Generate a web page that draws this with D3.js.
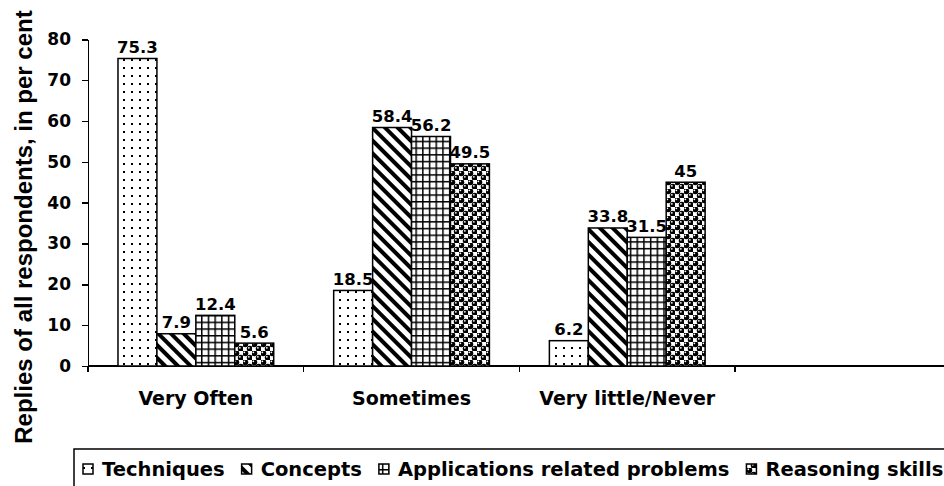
<!DOCTYPE html>
<html lang="en">
<head>
<meta charset="UTF-8">
<title>Replies of all respondents</title>
<style>
    body { margin:0; background:#fff; }
    svg text { font-family: "DejaVu Sans", sans-serif; font-weight: bold; fill:#000; }
    .axis path, .axis line { fill:none; stroke:#000; stroke-width:1.5px; shape-rendering:crispEdges; }
    .axis text { font-size:17px; }
</style>
</head>
<body>
<script src="https://cdn.jsdelivr.net/npm/d3@7"></script>
<script>
    var categories = ["Very Often", "Sometimes", "Very little/Never"];
    var seriesNames = ["Techniques", "Concepts", "Applications related problems", "Reasoning skills"];
    var techniques = [75.3, 18.5, 6.2];
    var concepts = [7.9, 58.4, 33.8];
    var applications = [12.4, 56.2, 31.5];
    var reasoning = [5.6, 49.5, 45];
    var yTicks = [0, 10, 20, 30, 40, 50, 60, 70, 80];

    var seriesValues = [techniques, concepts, applications, reasoning];
    var patternIds = ["pDots", "pStripes", "pGrid", "pBalls"];

    var w = 944, h = 486;
    var svg = d3.select("body").append("svg").attr("width", w).attr("height", h);

    // fill patterns
    var defs = svg.append("defs");
    var p1 = defs.append("pattern").attr("id", "pDots").attr("patternUnits", "userSpaceOnUse")
        .attr("width", 8).attr("height", 8);
    p1.append("rect").attr("width", 8).attr("height", 8).attr("fill", "#fff");
    p1.append("rect").attr("x", 3).attr("y", 3).attr("width", 2).attr("height", 2).attr("fill", "#000");

    var p2 = defs.append("pattern").attr("id", "pStripes").attr("patternUnits", "userSpaceOnUse")
        .attr("width", 9).attr("height", 9).attr("patternTransform", "rotate(-45)");
    p2.append("rect").attr("width", 9).attr("height", 9).attr("fill", "#fff");
    p2.append("rect").attr("width", 4).attr("height", 9).attr("fill", "#000");

    var p3 = defs.append("pattern").attr("id", "pGrid").attr("patternUnits", "userSpaceOnUse")
        .attr("width", 6.7).attr("height", 6.7);
    p3.append("rect").attr("width", 6.7).attr("height", 6.7).attr("fill", "#fff");
    p3.append("rect").attr("width", 1.5).attr("height", 6.7).attr("fill", "#000");
    p3.append("rect").attr("width", 6.7).attr("height", 1.5).attr("fill", "#000");

    var p4 = defs.append("pattern").attr("id", "pBalls").attr("patternUnits", "userSpaceOnUse")
        .attr("width", 9).attr("height", 9);
    p4.append("rect").attr("width", 9).attr("height", 9).attr("fill", "#fff");
    [[2.25, 2.25], [6.75, 6.75]].forEach(function (c) {
        p4.append("circle").attr("cx", c[0]).attr("cy", c[1]).attr("r", 3).attr("fill", "#000");
        p4.append("circle").attr("cx", c[0] - 0.9).attr("cy", c[1] - 0.9).attr("r", 0.9).attr("fill", "#fff");
    });

    var x0 = 88, yBottom = 366;
    var x = d3.scaleBand().domain(categories).range([x0, x0 + 3 * 215.7]);
    var x1 = d3.scaleBand().domain(seriesNames)
        .range([x.bandwidth() * 0.139, x.bandwidth() * 0.861]);
    var y = d3.scaleLinear().domain([0, 80]).range([yBottom, 39.3]);

    // y axis
    var yAxis = d3.axisLeft(y).tickValues(yTicks).tickSize(6).tickSizeOuter(0).tickPadding(11);
    svg.append("g").attr("class", "axis").attr("transform", "translate(" + x0 + ",0)").call(yAxis);

    // x axis line + boundary ticks
    var xg = svg.append("g").attr("class", "axis");
    xg.append("line").attr("x1", x0).attr("x2", w).attr("y1", yBottom).attr("y2", yBottom);
    var bounds = categories.map(function (c) { return x(c); }).concat([x(categories[2]) + x.bandwidth()]);
    xg.selectAll(".tk").data(bounds).enter().append("line")
        .attr("x1", function (d) { return d; }).attr("x2", function (d) { return d; })
        .attr("y1", yBottom).attr("y2", yBottom + 6);

    svg.selectAll(".cat").data(categories).enter().append("text")
        .attr("class", "cat")
        .attr("x", function (d) { return x(d) + x.bandwidth() / 2; })
        .attr("y", 405)
        .attr("text-anchor", "middle")
        .attr("font-size", "19px")
        .text(function (d) { return d; });

    // bars, series by series (later bars cover earlier labels)
    seriesNames.forEach(function (s, i) {
        var g = svg.append("g");
        var rows = categories.map(function (c, j) { return { cat: c, v: seriesValues[i][j] }; });
        g.selectAll("rect").data(rows).enter().append("rect")
            .attr("x", function (d) { return x(d.cat) + x1(s); })
            .attr("y", function (d) { return y(d.v); })
            .attr("width", x1.bandwidth())
            .attr("height", function (d) { return yBottom - y(d.v); })
            .attr("fill", "url(#" + patternIds[i] + ")")
            .attr("stroke", "#000").attr("stroke-width", 1.5);
        g.selectAll("text").data(rows).enter().append("text")
            .attr("x", function (d) { return x(d.cat) + x1(s) + x1.bandwidth() / 2; })
            .attr("y", function (d) { return y(d.v) - 5.5; })
            .attr("text-anchor", "middle")
            .attr("font-size", "16.5px")
            .text(function (d) { return d.v; });
    });

    // y title
    svg.append("text")
        .attr("transform", "translate(32,227) rotate(-90)")
        .attr("text-anchor", "middle")
        .style("font-family", "'Liberation Sans', Arial, sans-serif")
        .attr("font-size", "24px")
        .text("Replies of all respondents, in per cent");

    // legend
    svg.append("rect").attr("x", 74).attr("y", 449).attr("width", 900).attr("height", 60)
        .attr("fill", "none").attr("stroke", "#000").attr("stroke-width", 1.5);
    var lx = 83;
    seriesNames.forEach(function (s, i) {
        svg.append("rect").attr("x", lx).attr("y", 464).attr("width", 10).attr("height", 10)
            .attr("fill", "url(#" + patternIds[i] + ")").attr("stroke", "#000").attr("stroke-width", 1.5);
        var t = svg.append("text").attr("x", lx + 19).attr("y", 476).attr("font-size", "19.5px").text(s);
        lx += 19 + t.node().getComputedTextLength() + 17;
    });
</script>
</body>
</html>
